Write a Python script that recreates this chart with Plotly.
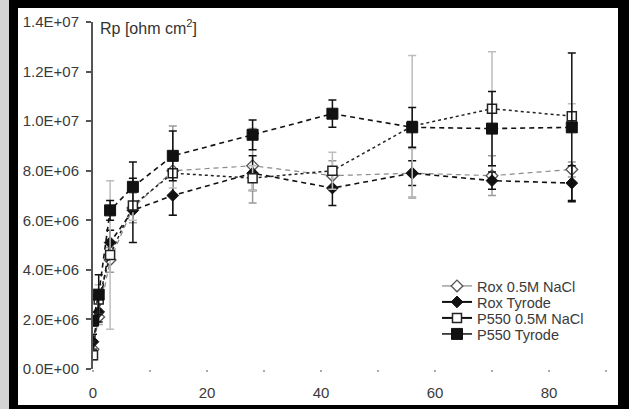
import plotly.graph_objects as go

# ---- data (values in ohm cm^2) ----
days = [0, 1, 3, 7, 14, 28, 42, 56, 70, 84]

rox_nacl = [0.8e6, 2.1e6, 4.4e6, 6.5e6, 8.0e6, 8.2e6, 7.8e6, 7.9e6, 7.8e6, 8.05e6]
rox_nacl_err = [0.3e6, 0.3e6, 0.5e6, 0.6e6, 1.8e6, 1.5e6, 0.6e6, 1.0e6, 0.8e6, 0.3e6]

rox_tyr = [1.1e6, 2.3e6, 5.1e6, 6.4e6, 7.0e6, 7.9e6, 7.3e6, 7.9e6, 7.6e6, 7.5e6]
rox_tyr_err = [0.3e6, 0.4e6, 0.5e6, 1.3e6, 0.8e6, 0.7e6, 0.7e6, 0.5e6, 0.35e6, 0.7e6]

p550_nacl = [0.55e6, 2.8e6, 4.6e6, 6.6e6, 7.9e6, 7.7e6, 8.0e6, 9.8e6, 10.5e6, 10.2e6]
p550_nacl_err = [0.2e6, 0.6e6, 3.0e6, 0.6e6, 0.6e6, 0.5e6, 0.75e6, 2.85e6, 2.3e6, 0.5e6]

p550_tyr = [1.95e6, 3.0e6, 6.4e6, 7.35e6, 8.6e6, 9.45e6, 10.3e6, 9.75e6, 9.7e6, 9.75e6]
p550_tyr_err = [0.2e6, 0.8e6, 0.4e6, 1.0e6, 1.0e6, 0.6e6, 0.55e6, 0.8e6, 1.5e6, 3.0e6]

series_names = ["Rox 0.5M NaCl", "Rox Tyrode", "P550 0.5M NaCl", "P550 Tyrode"]

y_tickvals = [0, 2e6, 4e6, 6e6, 8e6, 1.0e7, 1.2e7, 1.4e7]
y_ticktext = ["0.0E+00", "2.0E+06", "4.0E+06", "6.0E+06", "8.0E+06",
              "1.0E+07", "1.2E+07", "1.4E+07"]
x_tickvals = [0, 20, 40, 60, 80]
x_ticktext = ["0", "20", "40", "60", "80"]

FONT = "Liberation Sans, Arial, sans-serif"
DASH = "5px,4px"

styles = [
    dict(line=dict(color="#8a8a8a", width=1.2, dash=DASH),
         marker=dict(symbol="diamond", size=9, color="white",
                     line=dict(color="#555", width=1.3)),
         err="#9a9a9a", leg_line=dict(color="#8a8a8a", width=1.2)),
    dict(line=dict(color="#111", width=1.6, dash=DASH),
         marker=dict(symbol="diamond", size=9, color="#111",
                     line=dict(color="#111", width=1)),
         err="#111", leg_line=dict(color="#111", width=2)),
    dict(line=dict(color="#222", width=1.5, dash="3px,3px"),
         marker=dict(symbol="square", size=9, color="white",
                     line=dict(color="#222", width=1.5)),
         err="#bdbdbd", leg_line=dict(color="#111", width=2)),
    dict(line=dict(color="#111", width=1.6, dash=DASH),
         marker=dict(symbol="square", size=11, color="#111",
                     line=dict(color="#111", width=1)),
         err="#111", leg_line=dict(color="#111", width=1.5)),
]

values = [rox_nacl, rox_tyr, p550_nacl, p550_tyr]
errors = [rox_nacl_err, rox_tyr_err, p550_nacl_err, p550_tyr_err]

fig = go.Figure()

for name, vals, errs, st in zip(series_names, values, errors, styles):
    fig.add_trace(go.Scatter(
        x=days, y=vals, mode="lines+markers", name=name, showlegend=False,
        line=st["line"], marker=st["marker"],
        error_y=dict(type="data", array=errs, visible=True,
                     color=st["err"], thickness=1.5, width=4),
    ))

L, R, T, B = 93, 23, 22, 40
W, H = 629, 409
pw, ph = W - L - R, H - T - B

def px(xp):
    return (xp - L) / pw

def py(yp):
    return (H - B - yp) / ph

# legend entries (solid lines, as in the reference legend), one compact legend per row
legend_rows = [286, 302, 318, 334]
legend_layouts = {}
for i, (name, st, row) in enumerate(zip(series_names, styles, legend_rows)):
    lid = "legend" if i == 0 else f"legend{i + 1}"
    fig.add_trace(go.Scatter(
        x=[None], y=[None], mode="lines+markers", name=name,
        line=st["leg_line"], marker=st["marker"], showlegend=True,
        legend=lid,
    ))
    legend_layouts[lid] = dict(
        x=px(437), y=py(row), xanchor="left", yanchor="middle",
        bgcolor="rgba(0,0,0,0)", borderwidth=0,
        font=dict(family=FONT, size=14.5, color="#3a3a3a"),
        itemwidth=30,
    )

fig.update_layout(
    width=W, height=H,
    margin=dict(l=L, r=R, t=T, b=B, autoexpand=False),
    paper_bgcolor="black",
    plot_bgcolor="white",
    font=dict(family=FONT, color="#3a3a3a", size=15),
    shapes=[
        dict(type="rect", xref="paper", yref="paper", layer="below",
             x0=px(0), x1=px(9), y0=py(H), y1=py(0),
             fillcolor="#d3d3d3", line=dict(width=0)),
        dict(type="rect", xref="paper", yref="paper", layer="below",
             x0=px(18), x1=px(618), y0=py(405), y1=py(8),
             fillcolor="white", line=dict(width=0)),
    ],
    annotations=[
        dict(text="Rp [ohm cm<sup>2</sup>]", xref="paper", yref="paper",
             x=px(98), y=py(27), xanchor="left", yanchor="middle",
             showarrow=False, font=dict(family=FONT, size=16, color="#333")),
    ],
    xaxis=dict(
        range=[0, 90], tickvals=x_tickvals, ticktext=x_ticktext,
        automargin=False,
        showgrid=False, zeroline=False, showline=False,
        ticks="outside", ticklen=2, tickwidth=2, tickcolor="#aaa",
        minor=dict(dtick=10, tick0=0, ticks="outside", ticklen=2,
                   tickwidth=2, tickcolor="#aaa", showgrid=False),
        ticklabelstandoff=8,
        tickfont=dict(family=FONT, size=15, color="#3a3a3a"),
    ),
    yaxis=dict(
        range=[0, 1.4e7], tickvals=y_tickvals, ticktext=y_ticktext,
        automargin=False,
        showgrid=False, zeroline=False, showline=True,
        linecolor="#555", linewidth=2,
        ticks="outside", ticklen=5, tickwidth=2, tickcolor="#555",
        ticklabelstandoff=4,
        tickfont=dict(family=FONT, size=15, color="#3a3a3a"),
    ),
    **legend_layouts,
)

fig.write_html(
    "out.html",
    config={"displayModeBar": False},
    post_script="document.body.style.margin='0';document.body.style.overflow='hidden';",
)
